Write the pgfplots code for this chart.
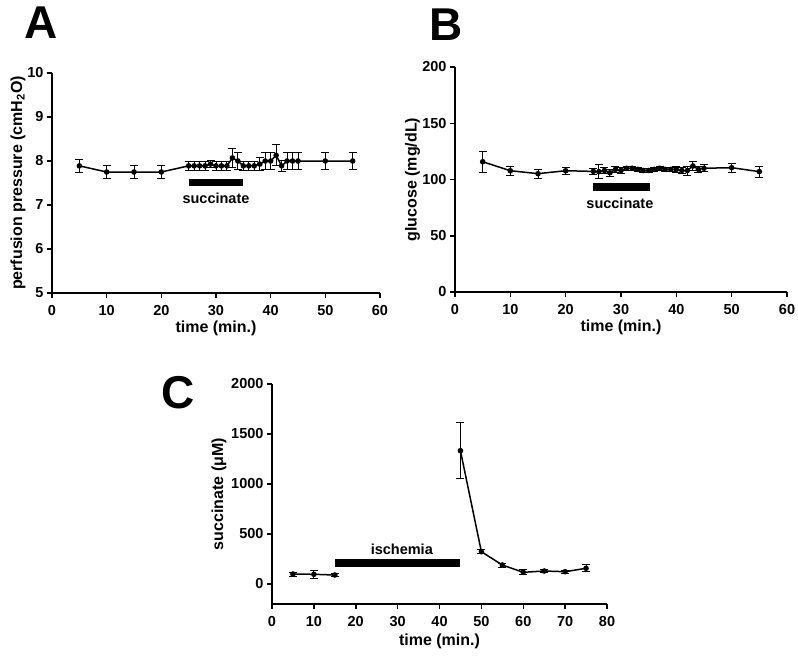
\documentclass[border=0pt]{standalone}
\usepackage{fontspec}
\setmainfont{Liberation Sans}
\usepackage{pgfplots}
\pgfplotsset{compat=1.18}

\pgfplotsset{
 panel/.style={
  scale only axis,
  axis x line=bottom, axis y line=left,
  axis line style={line width=1.7pt, -},
  tick style={line width=1.5pt, black},
  tick align=outside,
  major tick length=5pt,
  ticklabel style={font=\bfseries\fontsize{14.5}{14.5}\selectfont},
  xticklabel style={yshift=-4pt},
  label style={font=\bfseries\fontsize{16}{16}\selectfont},
  /pgf/number format/assume math mode=true,
  /pgf/number format/1000 sep={},
  clip=false,
 },
 dat/.style={black, line width=1.5pt, mark=*, mark size=2pt,
   mark options={solid, fill=black, draw=black},
   error bars/.cd, y dir=both, y explicit,
   error bar style={line width=0.9pt, black},
   error mark options={rotate=90, mark size=4pt, line width=0.9pt, black}},
}

\begin{document}
\begin{tikzpicture}
\path[use as bounding box] (0pt,0pt) rectangle (798pt,-656pt);

% Panel A
\begin{axis}[panel, at={(52pt,-293pt)}, anchor=south west,
  width=328pt, height=220pt,
  xmin=0, xmax=60, ymin=5, ymax=10,
  xtick={0,10,...,60}, ytick={5,6,...,10},
  xlabel={time (min.)}, xlabel style={yshift=2pt},
  ylabel={perfusion pressure (cmH\textsubscript{2}O)}, ylabel style={yshift=-5pt}]
\addplot[dat] coordinates {
 (5,7.89) +- (0,0.15)
 (10,7.75) +- (0,0.15)
 (15,7.75) +- (0,0.15)
 (20,7.75) +- (0,0.15)
 (25,7.89) +- (0,0.11)
 (26,7.89) +- (0,0.11)
 (27,7.89) +- (0,0.11)
 (28,7.89) +- (0,0.11)
 (29,7.93) +- (0,0.08)
 (30,7.89) +- (0,0.11)
 (31,7.89) +- (0,0.11)
 (32,7.89) +- (0,0.11)
 (33,8.07) +- (0,0.21)
 (34,8.00) +- (0,0.20)
 (35,7.89) +- (0,0.11)
 (36,7.89) +- (0,0.11)
 (37,7.89) +- (0,0.11)
 (38,7.93) +- (0,0.15)
 (39,8.00) +- (0,0.20)
 (40,8.00) +- (0,0.20)
 (41,8.13) +- (0,0.24)
 (42,7.89) +- (0,0.12)
 (43,8.00) +- (0,0.20)
 (44,8.00) +- (0,0.20)
 (45,8.00) +- (0,0.20)
 (50,8.00) +- (0,0.20)
 (55,8.00) +- (0,0.20)
};
\addplot[black, line width=7pt, mark=none] coordinates {(25,7.51) (35,7.51)};
\node[font=\bfseries\fontsize{14.5}{14.5}\selectfont] at (axis cs:30,7.16) {succinate};
\end{axis}

% Panel B
\begin{axis}[panel, at={(455pt,-292pt)}, anchor=south west,
  width=332pt, height=225pt,
  xmin=0, xmax=60, ymin=0, ymax=200,
  xtick={0,10,...,60}, ytick={0,50,...,200},
  xlabel={time (min.)}, xlabel style={yshift=2pt},
  ylabel={glucose (mg/dL)}, ylabel style={yshift=-4.5pt}]
\addplot[dat] coordinates {
 (5,115.8) +- (0,9.3)
 (10,107.8) +- (0,4)
 (15,105.2) +- (0,4)
 (20,107.8) +- (0,3)
 (25,107.2) +- (0,3)
 (26,107) +- (0,6)
 (27,108) +- (0,3)
 (28,106) +- (0,3)
 (29,109) +- (0,3)
 (30,108) +- (0,3)
 (31,110) +- (0,2)
 (32,110) +- (0,2)
 (33,109) +- (0,2)
 (34,108) +- (0,2)
 (35,108) +- (0,2)
 (36,109) +- (0,2)
 (37,110) +- (0,2)
 (38,109) +- (0,2)
 (39,109) +- (0,2)
 (40,109) +- (0,3)
 (41,108) +- (0,3)
 (42,108) +- (0,4)
 (43,112) +- (0,4)
 (44,109) +- (0,3)
 (45,110) +- (0,3)
 (50,110.5) +- (0,4)
 (55,107) +- (0,5)
};
\addplot[black, line width=8pt, mark=none] coordinates {(25,93.5) (35.3,93.5)};
\node[font=\bfseries\fontsize{14.5}{14.5}\selectfont] at (axis cs:29.8,79) {succinate};
\end{axis}

% Panel C
\begin{axis}[panel, at={(272pt,-604pt)}, anchor=south west,
  width=335pt, height=220pt,
  xmin=0, xmax=80, ymin=-200, ymax=2000,
  xtick={0,10,...,80}, ytick={0,500,...,2000},
  xlabel={time (min.)},
  ylabel={succinate (μM)}, ylabel style={yshift=-2pt}]
\addplot[dat] coordinates {
 (5,100) +- (0,20)
 (10,97) +- (0,40)
 (15,90) +- (0,15)
};
\addplot[dat] coordinates {
 (45,1333) +- (0,280)
 (50,323) +- (0,20)
 (55,190) +- (0,20)
 (60,117) +- (0,25)
 (65,130) +- (0,15)
 (70,123) +- (0,15)
 (75,157) +- (0,35)
};
\addplot[black, line width=8pt, mark=none] coordinates {(15,212) (44.8,212)};
\node[font=\bfseries\fontsize{14.5}{14.5}\selectfont] at (axis cs:31,350) {ischemia};
\end{axis}

\node[font=\bfseries\fontsize{46}{46}\selectfont] at (41pt,-23pt) {A};
\node[font=\bfseries\fontsize{46}{46}\selectfont] at (446pt,-25pt) {B};
\node[font=\bfseries\fontsize{46}{46}\selectfont] at (178pt,-393pt) {C};
\end{tikzpicture}
\end{document}
